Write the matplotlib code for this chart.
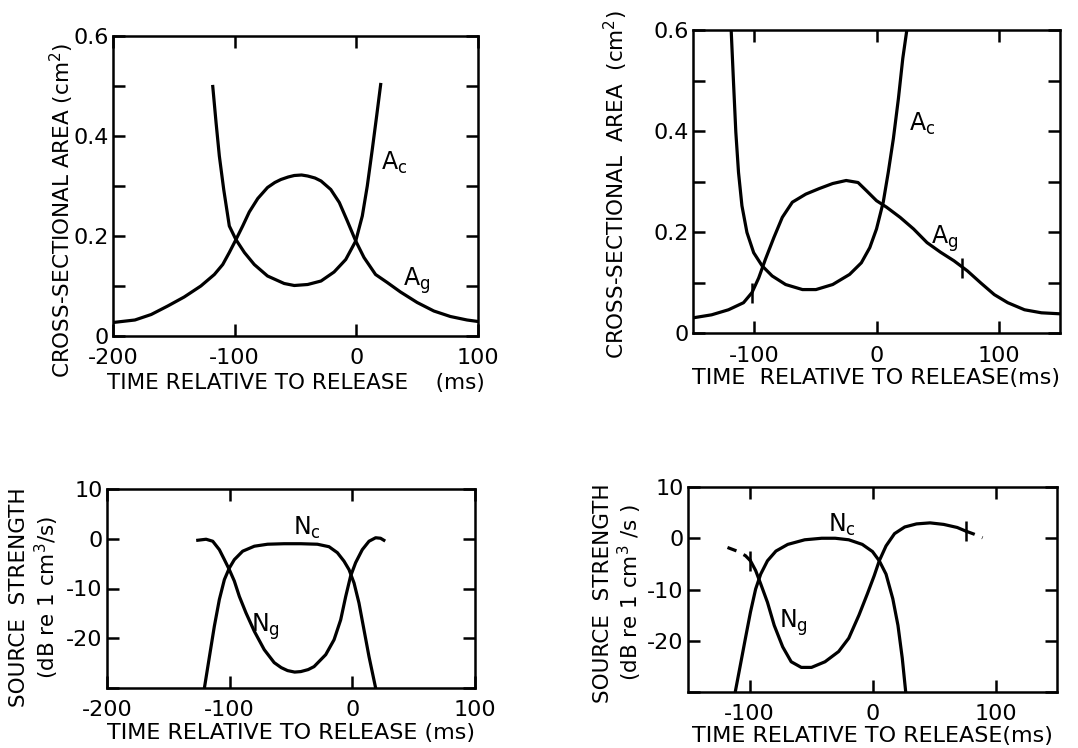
import numpy as np
import matplotlib
matplotlib.use("Agg")
import matplotlib.pyplot as plt

plt.rcParams['font.family'] = ['DejaVu Sans']
plt.rcParams['mathtext.default'] = 'regular'

# --- top left: cross-sectional areas
tl_ac_t = [-118, -115.3, -112.6, -109, -104.4, -99, -92, -83.9, -73, -59.3, -51, -40, -29,
           -18.3, -8.7, -0.5, 4.9, 9, 13.1, 16.7, 20]
tl_ac_a = [0.499, 0.427, 0.36, 0.293, 0.22, 0.193, 0.167, 0.143, 0.12, 0.105, 0.101, 0.103, 0.11,
           0.128, 0.153, 0.19, 0.24, 0.3, 0.373, 0.44, 0.503]
tl_ag_t = [-200, -182, -168.6, -155, -141.5, -127.8, -116.7, -109.8, -104.4, -98.9, -93.4, -88, -81,
           -73, -67, -62, -56, -51, -45, -40, -34, -29, -21, -14, -7.4, -0.5, 6.3, 15.8, 25.4, 36.3,
           50, 63.7, 77.3, 91, 100]
tl_ag_a = [0.027, 0.032, 0.043, 0.06, 0.078, 0.1, 0.123, 0.143, 0.167, 0.193, 0.22, 0.248, 0.275,
           0.297, 0.307, 0.313, 0.318, 0.321, 0.322, 0.32, 0.316, 0.31, 0.293, 0.267, 0.23, 0.19,
           0.157, 0.123, 0.107, 0.088, 0.067, 0.05, 0.039, 0.032, 0.029]

# --- top right
tr_ac_t = [-118.8, -116.9, -115, -112.8, -110, -105.9, -100.4, -93.5, -85.3, -74.3, -60.5, -49.5,
           -35.8, -22, -12.4, -5.5, 0, 5.5, 9.6, 13.8, 17.9, 21.5, 24.8]
tr_ac_a = [0.6, 0.497, 0.398, 0.318, 0.252, 0.199, 0.159, 0.133, 0.113, 0.096, 0.086, 0.086,
           0.096, 0.116, 0.139, 0.169, 0.206, 0.259, 0.318, 0.385, 0.464, 0.544, 0.6]
tr_ag_t = [-150, -134.8, -121, -108.7, -101.8, -96.3, -90.8, -83.9, -77, -68.8, -57.8, -46.8, -35.8,
           -24.8, -15.1, -8.3, 0, 8.3, 19.3, 30.3, 41.3, 52.3, 63.3, 74.3, 85.3, 96.3, 107.3, 121,
           134.8, 150]
tr_ag_a = [0.03, 0.036, 0.046, 0.06, 0.08, 0.109, 0.146, 0.189, 0.229, 0.259, 0.275, 0.286, 0.296,
           0.302, 0.298, 0.282, 0.262, 0.249, 0.229, 0.206, 0.179, 0.16, 0.143, 0.123, 0.099, 0.076,
           0.06, 0.046, 0.04, 0.038]
tr_marks_t = [-101.8, 70]
tr_marks_a = [0.08, 0.128]

# --- bottom left: source strength
bl_nc_t = [-120.6, -116.5, -112.5, -108.4, -104.3, -100.3, -96.2, -89.4, -79.9, -69.1, -55.6, -42,
           -28.5, -19, -12.2, -6.8, -2.7, 1.4, 5.4, 9.5, 13.6, 19]
bl_nc_db = [-30, -23.7, -17.6, -12.2, -8.2, -5.9, -4.2, -2.5, -1.5, -1.1, -1, -1,
            -1.1, -1.6, -2.8, -4.5, -6.2, -8.9, -12.9, -18.3, -23.7, -30]
bl_ng_t = [-126, -119.2, -113.8, -108.4, -104.3, -100.3, -96.2, -92.1, -86.7, -79.9, -71.8, -63.7,
           -58, -52.8, -47, -42, -36, -31.2, -21.7, -14.9, -9.5, -5.4, -1.4, 2.7, 8.1, 13.6, 19, 23,
           25.7]
bl_ng_db = [-0.3, -0.1, -0.5, -2.2, -4.2, -6.2, -8.5, -11.6, -14.9, -18.6, -22.3, -24.9,
            -25.9, -26.5, -26.8, -26.7, -26.3, -25.7, -23.3, -20.3, -16.3, -11.6, -7.5, -4.8, -2.2,
            -0.5, 0.2, 0.1, -0.3]

# --- bottom right
br_nc_t = [-111.6, -107.4, -103.3, -99.2, -95, -90.9, -85.4, -78.5, -68.9, -55.1, -41.3, -30.3,
           -19.3, -8.3, 0, 5.5, 11, 16.5, 20.7, 24.2, 27]
br_nc_db = [-30, -24.7, -19.5, -14.4, -9.9, -7, -4.4, -2.5, -1.2, -0.3, 0, 0,
            -0.3, -1.2, -2.6, -4.4, -7, -11.8, -17, -23.4, -30]
br_ng_t = [-99.2, -95, -90.9, -85.4, -79.9, -73, -66.1, -57.9, -49.6, -38.6, -27.5, -19.3, -11,
           -4.1, 1.4, 5.5, 11, 17.9, 26.2, 35.8, 46.8, 57.9, 68.9, 75.8]
br_ng_db = [-4.4, -6.3, -8.9, -12.5, -17, -21.2, -24.1, -25.2, -25.2, -24.1, -22.1, -19.5, -15,
            -10.8, -7.3, -4.4, -1.5, 0.9, 2.2, 2.8, 3, 2.7, 2.1, 1.4]
br_ng_pre_t = [-117.9, -110.2, -103.3, -99.2]
br_ng_pre_db = [-1.8, -2.5, -3.4, -4.4]
br_ng_post_t = [75.8, 82.6, 89.5]
br_ng_post_db = [1.4, 0.8, 0.1]
br_marks_t = [-99.2, 75.8]
br_marks_db = [-4.4, 1.4]

W, H = 1078, 748
fig = plt.figure(figsize=(W / 100, H / 100), dpi=100)

def px_axes(l, t, r, b):
    return fig.add_axes([l / W, 1 - b / H, (r - l) / W, (b - t) / H])

FS = 16
LW = 2.3

def style(ax, xlim, ylim, xt, yt, ylabels, xlabels):
    ax.set_xlim(*xlim)
    ax.set_ylim(*ylim)
    ax.set_xticks(xt)
    ax.set_yticks(yt)
    for s in ax.spines.values():
        s.set_linewidth(1.8)
    ax.tick_params(direction='in', length=8.5, width=1.8, top=True, right=True,
                   labelsize=FS)
    ax.tick_params(axis='x', pad=9)
    ax.tick_params(axis='y', pad=3)
    ax.set_yticklabels(ylabels)
    ax.set_xticklabels(xlabels)

def lbl(ax, x, y, s):
    ax.text(x, y, s, fontsize=FS + 1, ha='center', va='center')

# top left
ax1 = px_axes(113, 36, 478, 336)
ax1.plot(tl_ac_t, tl_ac_a, color='k', lw=LW)
ax1.plot(tl_ag_t, tl_ag_a, color='k', lw=LW)
style(ax1, (-200, 100), (0, 0.6), [-200, -100, 0, 100], np.arange(0, 0.61, 0.1),
      ['0', '', '0.2', '', '0.4', '', '0.6'], ['-200', '-100', '0', '100'])
lbl(ax1, 31, 0.347, 'A$_c$')
lbl(ax1, 50, 0.11, 'A$_g$')
ax1.set_xlabel('TIME RELATIVE TO RELEASE    (ms)', fontsize=FS - 0.5, labelpad=3)
fig.text(62 / W, 1 - 210 / H, 'CROSS-SECTIONAL AREA (cm$^2$)', rotation=90,
         fontsize=FS - 0.5, ha='center', va='center')

# top right
ax2 = px_axes(693, 30, 1060, 333)
ax2.plot(tr_ac_t, tr_ac_a, color='k', lw=LW)
ax2.plot(tr_ag_t, tr_ag_a, color='k', lw=LW)
ax2.plot(tr_marks_t, tr_marks_a, ls='none', marker='|', ms=15, mew=1.8, color='k')
style(ax2, (-150, 150), (0, 0.6), [-100, 0, 100], np.arange(0, 0.61, 0.1),
      ['0', '', '0.2', '', '0.4', '', '0.6'], ['-100', '0', '100'])
lbl(ax2, 37, 0.414, 'A$_c$')
lbl(ax2, 56, 0.186, 'A$_g$')
ax2.set_xlabel('TIME  RELATIVE TO RELEASE(ms)', fontsize=FS, labelpad=2)
fig.text(616 / W, 1 - 185 / H, 'CROSS-SECTIONAL  AREA  (cm$^2$)', rotation=90,
         fontsize=FS - 0.5, ha='center', va='center')

# bottom left
ax3 = px_axes(107, 489, 475, 688)
ax3.plot(bl_nc_t, bl_nc_db, color='k', lw=LW)
ax3.plot(bl_ng_t, bl_ng_db, color='k', lw=LW)
style(ax3, (-200, 100), (-30, 10), [-200, -100, 0, 100], [-30, -20, -10, 0, 10],
      ['', '-20', '-10', '0', '10'], ['-200', '-100', '0', '100'])
lbl(ax3, -36.6, 2.2, 'N$_c$')
lbl(ax3, -70.5, -17.6, 'N$_g$')
ax3.set_xlabel('TIME RELATIVE TO RELEASE (ms)', fontsize=FS, labelpad=2)
fig.text(19 / W, 1 - 597 / H, 'SOURCE  STRENGTH', rotation=90, fontsize=FS - 0.5,
         ha='center', va='center')
fig.text(47 / W, 1 - 597 / H, '(dB re 1 cm$^3$/s)', rotation=90, fontsize=FS - 0.5,
         ha='center', va='center')

# bottom right
ax4 = px_axes(688, 487, 1057, 692)
ax4.plot(br_nc_t, br_nc_db, color='k', lw=LW)
ax4.plot(br_ng_t, br_ng_db, color='k', lw=LW)
ax4.plot(br_ng_pre_t, br_ng_pre_db, color='k', lw=LW, ls=(0, (3, 2.5)))
ax4.plot(br_ng_post_t, br_ng_post_db, color='k', lw=LW, ls=(0, (3, 2.5)))
ax4.plot(br_marks_t, br_marks_db, ls='none', marker='|', ms=15, mew=1.8, color='k')
style(ax4, (-150, 150), (-30, 10), [-100, 0, 100], [-30, -20, -10, 0, 10],
      ['', '-20', '-10', '0', '10'], ['-100', '0', '100'])
lbl(ax4, -24.8, 2.6, 'N$_c$')
lbl(ax4, -64.2, -16.5, 'N$_g$')
ax4.set_xlabel('TIME RELATIVE TO RELEASE(ms)', fontsize=FS, labelpad=1)
fig.text(603 / W, 1 - 593 / H, 'SOURCE  STRENGTH', rotation=90, fontsize=FS - 0.5,
         ha='center', va='center')
fig.text(630 / W, 1 - 593 / H, '(dB re 1 cm$^3$ /s )', rotation=90, fontsize=FS - 0.5,
         ha='center', va='center')

fig.savefig('out.png', dpi=100)
